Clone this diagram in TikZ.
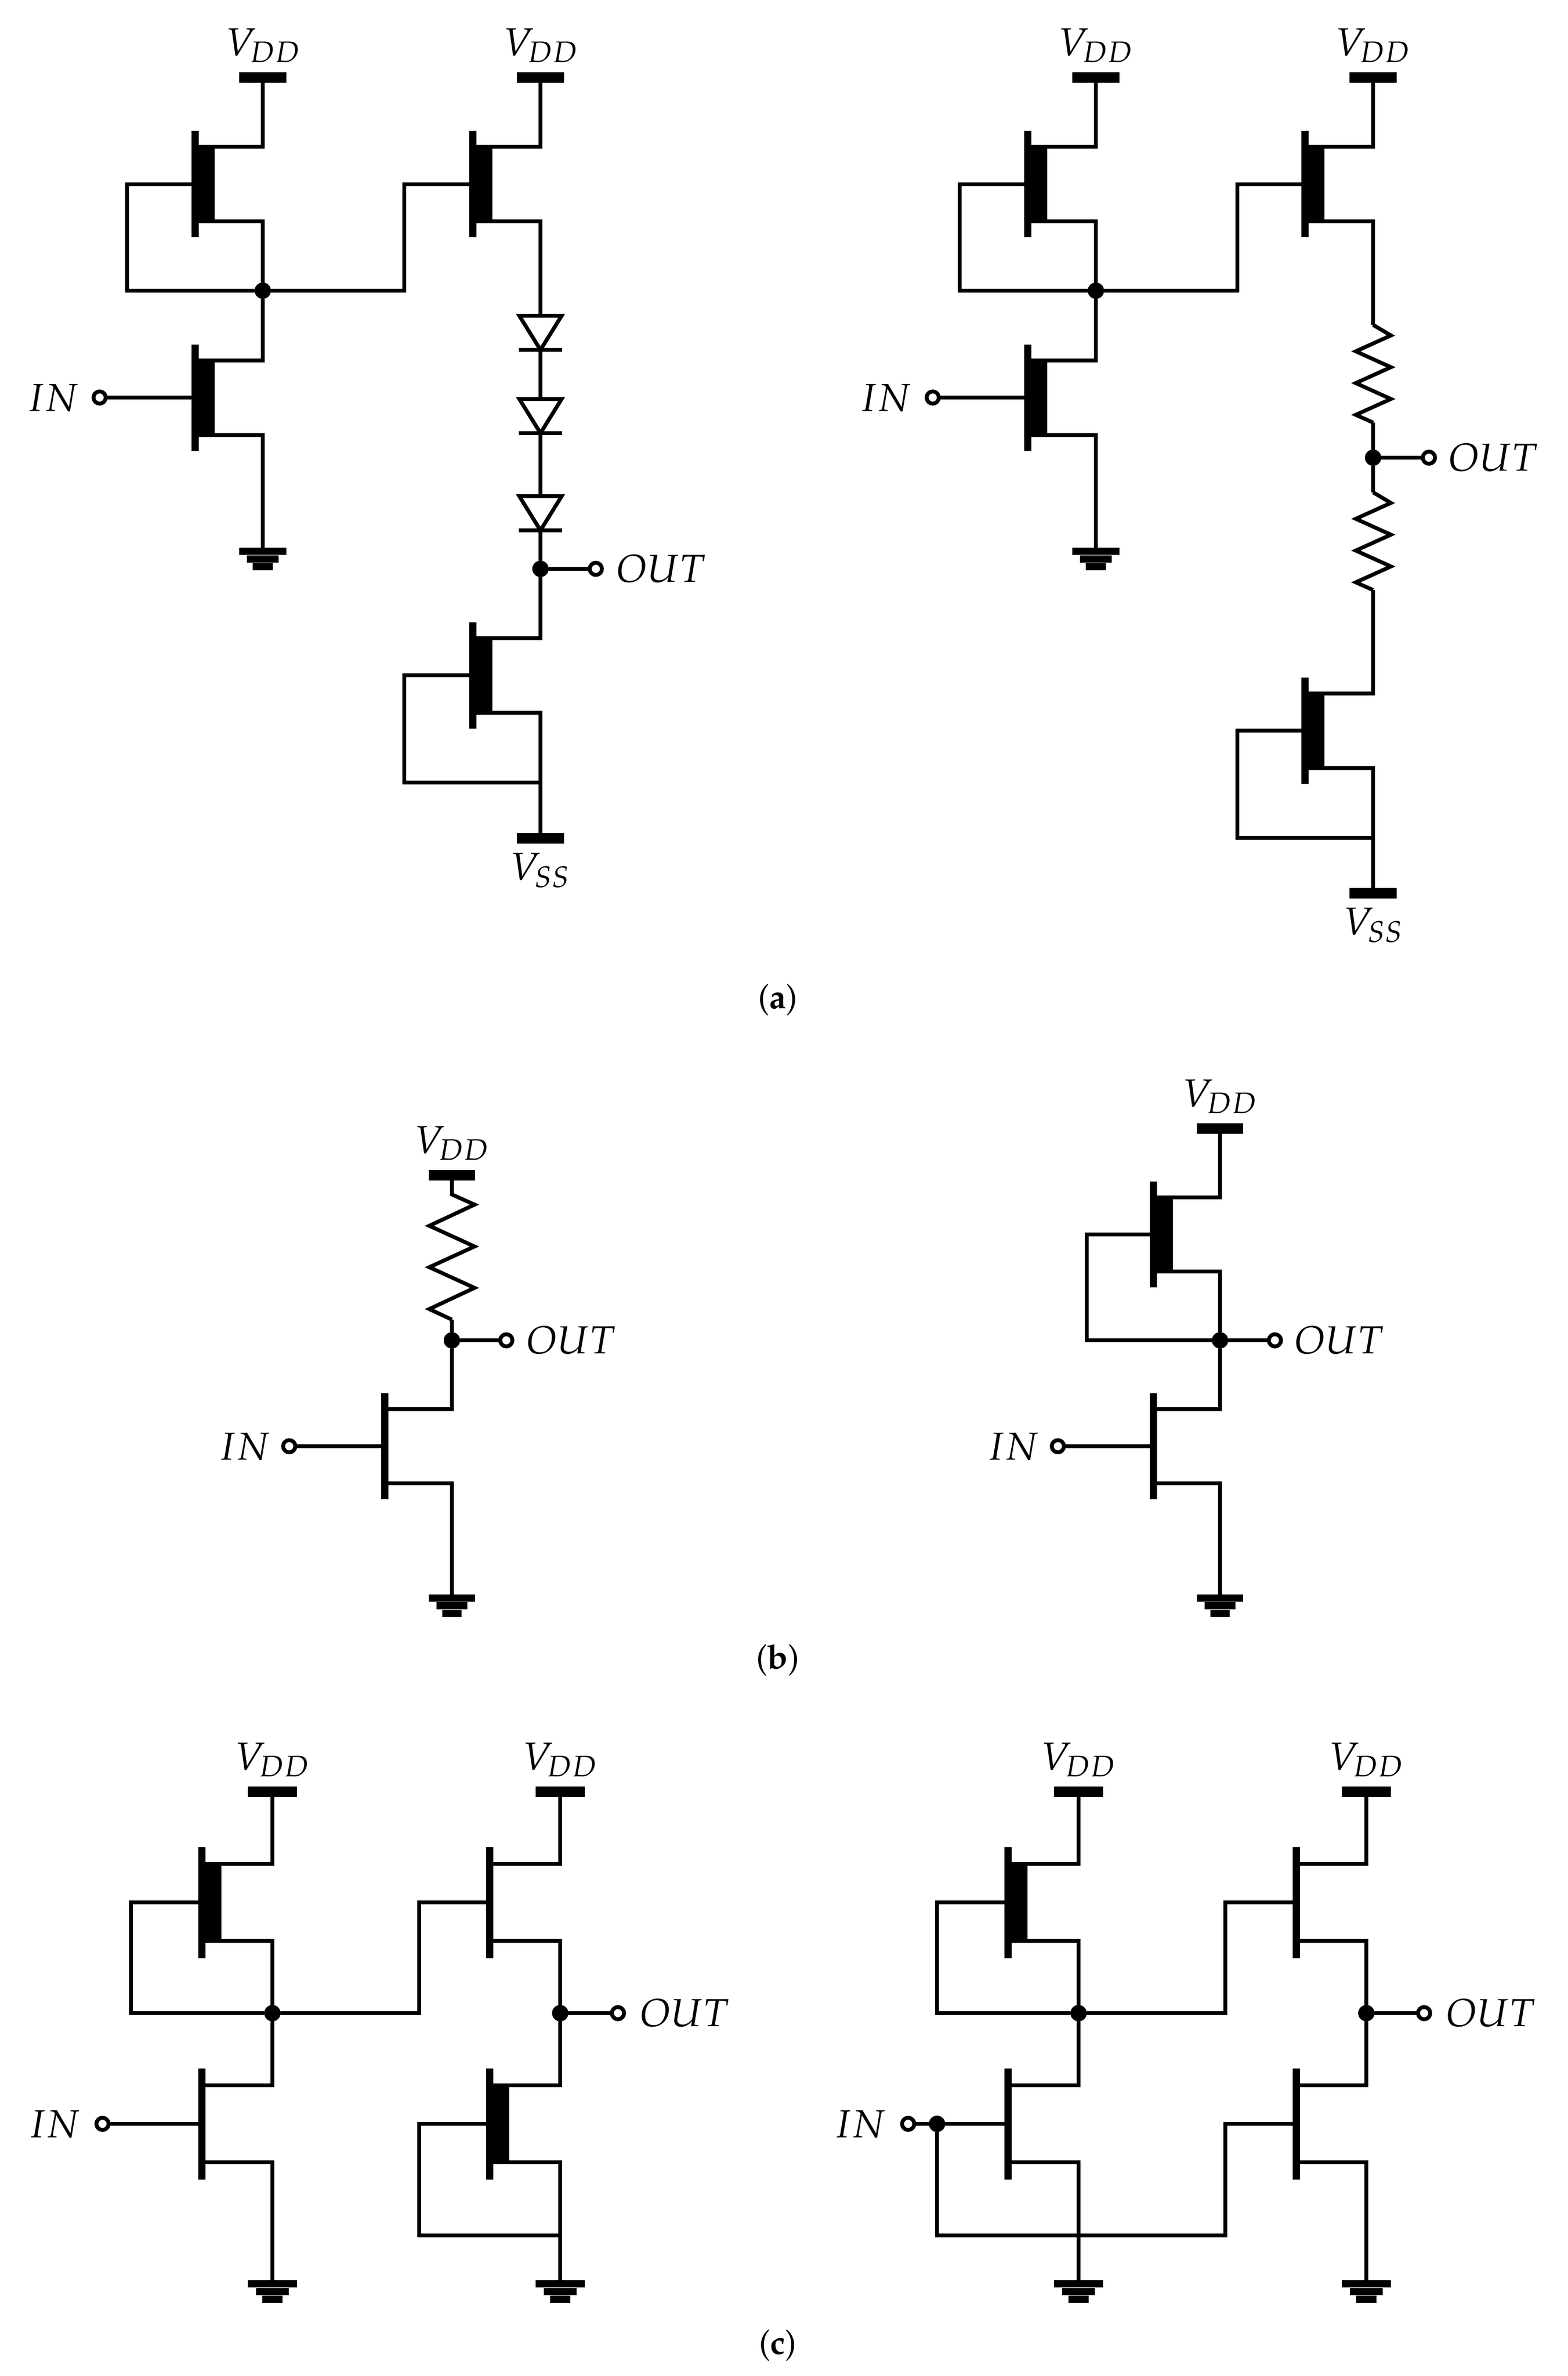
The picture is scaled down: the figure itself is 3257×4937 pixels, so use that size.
\documentclass[tikz,border=0pt]{standalone}
\usepackage[T1]{fontenc}
\usepackage{mathpazo}
\usetikzlibrary{positioning}
\def\px{0.24pt}
\def\fethalf{110.5}
\def\fetarm{77.5}
\def\railw{98}
\tikzset{
    wire/.style={line width=8*\px},
    fetbar/.style={rectangle, fill=black, inner sep=0pt, outer sep=0pt, minimum width=15*\px, minimum height=2*\fethalf*\px},
    fetch/.style={rectangle, fill=black, inner sep=0pt, outer sep=0pt, minimum width=48*\px, minimum height=(2*\fetarm+8)*\px},
    rail/.style={rectangle, fill=black, inner sep=0pt, outer sep=0pt, minimum width=\railw*\px, minimum height=22*\px},
    gndbar/.style={rectangle, fill=black, inner sep=0pt, outer sep=0pt, minimum height=15*\px},
    katode/.style={rectangle, fill=black, inner sep=0pt, outer sep=0pt, minimum width=90*\px, minimum height=8*\px},
    dot/.style={circle, fill=black, inner sep=0pt, outer sep=0pt, minimum size=34*\px},
    term/.style={circle, draw=black, fill=white, line width=8*\px, inner sep=0pt, outer sep=0pt, minimum size=25.4*\px},
    lab/.style={anchor=base, inner sep=0pt, font=\fontsize{19.5}{24}\selectfont},
    figcap/.style={anchor=base, inner sep=0pt, font=\fontsize{16.8}{20}\selectfont},
}
\newcommand{\fet}[3]{
    \node[fetbar] (#1) at (#2,#3) {};
    \coordinate (#1-d) at (#2,#3-\fetarm);
    \coordinate (#1-s) at (#2,#3+\fetarm);
}
\newcommand{\fetthick}[3]{
    \fet{#1}{#2}{#3}
    \node[fetch] (#1-c) at (#2+17,#3) {};
}
\newcommand{\gnd}[3]{
    \node[gndbar, minimum width=\railw*\px] (#1) at (#2,#3) {};
    \node[gndbar, minimum width=0.67*\railw*\px] (#1-b) at (#2,#3+16) {};
    \node[gndbar, minimum width=0.42*\railw*\px] (#1-c) at (#2,#3+32) {};
}
\newcommand{\diode}[3]{
    \coordinate (#1-a) at (#2,#3);
    \node[katode] (#1-k) at (#2,#3+71) {};
    \draw[wire] (#2-44,#3) -- (#2+44,#3) -- (#2,#3+71) -- cycle;
}
\newcommand{\zigzag}[1]{
    \draw[wire] (#1) -- ++(37,22) -- ++(-73,33) -- ++(73,33) -- ++(-73,33) -- ++(73,33) -- ++(-73,33) -- ++(36,16);
}
\begin{document}
\begin{tikzpicture}[x=0.24pt,y=-0.24pt]
    \useasboundingbox (0,0) rectangle (3257,4937);

    % (a) left
    \fetthick{al1}{405}{382.5}
    \fetthick{al2}{982}{382.5}
    \fetthick{al3}{405}{826}
    \fetthick{al4}{982}{1403}
    \node[rail] (alv1) at (546,161) {};
    \node[rail] (alv2) at (1123,161) {};
    \node[rail] (alvss) at (1123,1742) {};
    \gnd{alg}{546}{1145.5}
    \node[dot] (alj1) at (546,604) {};
    \node[dot] (alj2) at (1123,1182) {};
    \node[term] (alin) at (207,826) {};
    \node[term] (alout) at (1238,1182) {};
    \diode{ald1}{1123}{656}
    \diode{ald2}{1123}{829}
    \diode{ald3}{1123}{1031}
    \coordinate (alf1) at (264,604);
    \coordinate (alf2) at (840,604);
    \coordinate (alf3) at (840,1626);

    \draw[wire] (al1-d) -| (alv1.south);
    \draw[wire] (al1-s) -| (alj1.north);
    \draw[wire] (al1.west) -| (alf1) -- (alj1);
    \draw[wire] (alj1) -- (alf2) |- (al2.west);
    \draw[wire] (al2-d) -| (alv2.south);
    \draw[wire] (al2-s) -| (ald1-a);
    \draw[wire] (ald1-k) -- (ald2-a);
    \draw[wire] (ald2-k) -- (ald3-a);
    \draw[wire] (ald3-k) -- (alj2);
    \draw[wire] (alj2) -- (alout);
    \draw[wire] (al3-d) -| (alj1.south);
    \draw[wire] (al3-s) -| (alg.north);
    \draw[wire] (alin) -- (al3.west);
    \draw[wire] (al4-d) -| (alj2.south);
    \draw[wire] (al4-s) -| (alvss.north);
    \draw[wire] (al4.west) -| (alf3) -- (alf3 -| alvss);

    \node[lab] (allv1) at (547,115) {$V_{DD}$};
    \node[lab] (allv2) at (1124,115) {$V_{DD}$};
    \node[lab] (allss) at (1122,1828) {$V_{SS}$};
    \node[lab] (allin) at (110,854) {$IN$};
    \node[lab] (allout) at (1374,1209) {$OUT$};

    % (a) right
    \fetthick{ar1}{2135}{382.5}
    \fetthick{ar2}{2711}{382.5}
    \fetthick{ar3}{2135}{826}
    \fetthick{ar4}{2711}{1518}
    \node[rail] (arv1) at (2277,161) {};
    \node[rail] (arv2) at (2853,161) {};
    \node[rail] (arvss) at (2853,1856) {};
    \gnd{arg}{2277}{1145.5}
    \node[dot] (arj1) at (2277,604) {};
    \node[dot] (arj2) at (2853,951) {};
    \node[term] (arin) at (1938,826) {};
    \node[term] (arout) at (2969,951) {};
    \coordinate (arf1) at (1994,604);
    \coordinate (arf2) at (2571,604);
    \coordinate (arf3) at (2571,1741);
    \coordinate (arr1) at (2853,675);
    \coordinate (arr2) at (2853,878);
    \coordinate (arr3) at (2853,1023);
    \coordinate (arr4) at (2853,1226);

    \draw[wire] (ar1-d) -| (arv1.south);
    \draw[wire] (ar1-s) -| (arj1.north);
    \draw[wire] (ar1.west) -| (arf1) -- (arj1);
    \draw[wire] (arj1) -- (arf2) |- (ar2.west);
    \draw[wire] (ar2-d) -| (arv2.south);
    \draw[wire] (ar2-s) -| (arr1);
    \zigzag{arr1}
    \draw[wire] (arr2) -- (arj2);
    \draw[wire] (arj2) -- (arout);
    \draw[wire] (arj2) -- (arr3);
    \zigzag{arr3}
    \draw[wire] (ar3-d) -| (arj1.south);
    \draw[wire] (ar3-s) -| (arg.north);
    \draw[wire] (arin) -- (ar3.west);
    \draw[wire] (ar4-d) -| (arr4);
    \draw[wire] (ar4-s) -| (arvss.north);
    \draw[wire] (ar4.west) -| (arf3) -- (arf3 -| arvss);

    \node[lab] (arlv1) at (2277,115) {$V_{DD}$};
    \node[lab] (arlv2) at (2853,115) {$V_{DD}$};
    \node[lab] (arlss) at (2853,1942) {$V_{SS}$};
    \node[lab] (arlin) at (1840,854) {$IN$};
    \node[lab] (arlout) at (3103,978) {$OUT$};

    \node[figcap] (capa) at (1616,2095) {(\textbf{a})};

    % (b)
    \begin{scope}
        \def\fetarm{77}
        \def\fethalf{110}
        \def\railw{96}
        \fet{bl1}{799}{3005}
        \node[rail] (blv) at (939,2442) {};
        \gnd{blg}{939}{3320}
        \node[dot] (blj) at (939,2785) {};
        \node[term] (blin) at (601,3005) {};
        \node[term] (blout) at (1052,2785) {};
        \coordinate (blr) at (939,2482);
        \draw[wire] (blv.south) -- (blr) -- ++(47,21) -- ++(-94,44) -- ++(94,43) -- ++(-94,43) -- ++(94,43) -- ++(-94,44) -- ++(47,22) coordinate (blr2);
        \draw[wire] (blr2) -- (blj);
        \draw[wire] (blj) -- (blout);
        \draw[wire] (bl1-d) -| (blj.south);
        \draw[wire] (bl1-s) -| (blg.north);
        \draw[wire] (blin) -- (bl1.west);
        \node[lab] (bllv) at (939,2396) {$V_{DD}$};
        \node[lab] (bllin) at (508,3033) {$IN$};
        \node[lab] (bllout) at (1187,2812) {$OUT$};

        \fetthick{br1}{2396}{2565}
        \fet{br2}{2396}{3005}
        \node[rail] (brv) at (2535,2345) {};
        \gnd{brg}{2535}{3320}
        \node[dot] (brj) at (2535,2785) {};
        \node[term] (brin) at (2198,3005) {};
        \node[term] (brout) at (2649,2785) {};
        \coordinate (brf) at (2258,2785);
        \draw[wire] (br1-d) -| (brv.south);
        \draw[wire] (br1-s) -| (brj.north);
        \draw[wire] (br1.west) -| (brf) -- (brj);
        \draw[wire] (brj) -- (brout);
        \draw[wire] (br2-d) -| (brj.south);
        \draw[wire] (br2-s) -| (brg.north);
        \draw[wire] (brin) -- (br2.west);
        \node[lab] (brlv) at (2535,2299) {$V_{DD}$};
        \node[lab] (brlin) at (2105,3033) {$IN$};
        \node[lab] (brlout) at (2783,2812) {$OUT$};
    \end{scope}

    \node[figcap] (capb) at (1616,3467) {(\textbf{b})};

    % (c)
    \begin{scope}
        \def\fetarm{80}
        \def\fethalf{115.5}
        \def\railw{102}
        \fetthick{cl1}{419}{3953}
        \fet{cl2}{1017}{3953}
        \fet{cl3}{419}{4413}
        \fetthick{cl4}{1017}{4413}
        \node[rail] (clv1) at (566,3723) {};
        \node[rail] (clv2) at (1164,3723) {};
        \gnd{clg1}{566}{4745}
        \gnd{clg2}{1164}{4745}
        \node[dot] (clj1) at (566,4183) {};
        \node[dot] (clj2) at (1164,4183) {};
        \node[term] (clin) at (213,4413) {};
        \node[term] (clout) at (1284,4183) {};
        \coordinate (clf1) at (272,4183);
        \coordinate (clf2) at (871,4183);
        \coordinate (clf3) at (871,4645);
        \draw[wire] (cl1-d) -| (clv1.south);
        \draw[wire] (cl1-s) -| (clj1.north);
        \draw[wire] (cl1.west) -| (clf1) -- (clj1);
        \draw[wire] (clj1) -- (clf2) |- (cl2.west);
        \draw[wire] (cl2-d) -| (clv2.south);
        \draw[wire] (cl2-s) -| (clj2.north);
        \draw[wire] (clj2) -- (clout);
        \draw[wire] (cl3-d) -| (clj1.south);
        \draw[wire] (cl3-s) -| (clg1.north);
        \draw[wire] (clin) -- (cl3.west);
        \draw[wire] (cl4-d) -| (clj2.south);
        \draw[wire] (cl4-s) -| (clg2.north);
        \draw[wire] (cl4.west) -| (clf3) -- (clf3 -| clg2);
        \node[lab] (cllv1) at (566,3677) {$V_{DD}$};
        \node[lab] (cllv2) at (1164,3677) {$V_{DD}$};
        \node[lab] (cllin) at (113,4441) {$IN$};
        \node[lab] (cllout) at (1423,4210) {$OUT$};

        \fetthick{cr1}{2094}{3953}
        \fet{cr2}{2693}{3953}
        \fet{cr3}{2094}{4413}
        \fet{cr4}{2693}{4413}
        \node[rail] (crv1) at (2241,3723) {};
        \node[rail] (crv2) at (2839,3723) {};
        \gnd{crg1}{2241}{4745}
        \gnd{crg2}{2839}{4745}
        \node[dot] (crj1) at (2241,4183) {};
        \node[dot] (crj2) at (2839,4183) {};
        \node[dot] (crj3) at (1947,4413) {};
        \node[term] (crin) at (1887,4413) {};
        \node[term] (crout) at (2959,4183) {};
        \coordinate (crf1) at (1947,4183);
        \coordinate (crf2) at (2546,4183);
        \coordinate (crf3) at (1947,4645);
        \coordinate (crf4) at (2546,4645);
        \draw[wire] (cr1-d) -| (crv1.south);
        \draw[wire] (cr1-s) -| (crj1.north);
        \draw[wire] (cr1.west) -| (crf1) -- (crj1);
        \draw[wire] (crj1) -- (crf2) |- (cr2.west);
        \draw[wire] (cr2-d) -| (crv2.south);
        \draw[wire] (cr2-s) -| (crj2.north);
        \draw[wire] (crj2) -- (crout);
        \draw[wire] (cr3-d) -| (crj1.south);
        \draw[wire] (cr3-s) -| (crg1.north);
        \draw[wire] (crin) -- (crj3);
        \draw[wire] (crj3) -- (cr3.west);
        \draw[wire] (cr4-d) -| (crj2.south);
        \draw[wire] (cr4-s) -| (crg2.north);
        \draw[wire] (crj3) -- (crf3) -- (crf4) |- (cr4.west);
        \node[lab] (crlv1) at (2241,3677) {$V_{DD}$};
        \node[lab] (crlv2) at (2839,3677) {$V_{DD}$};
        \node[lab] (crlin) at (1787,4441) {$IN$};
        \node[lab] (crlout) at (3098,4210) {$OUT$};
    \end{scope}

    \node[figcap] (capc) at (1616,4891) {(\textbf{c})};
\end{tikzpicture}
\end{document}
